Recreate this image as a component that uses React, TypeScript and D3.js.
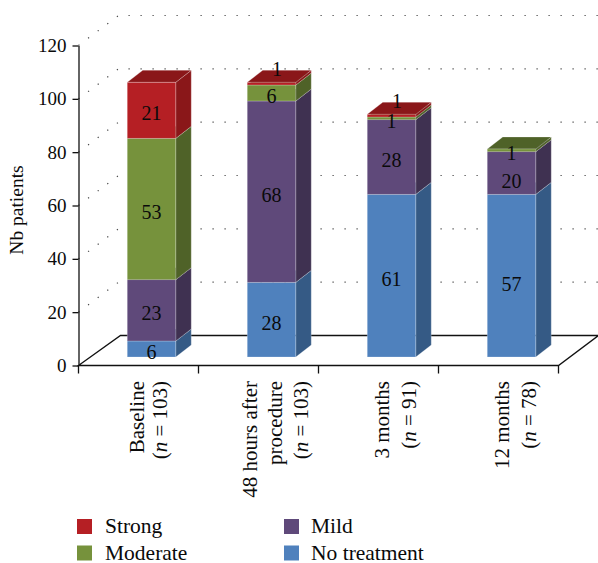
// @ts-nocheck
import { useEffect, useRef } from "react"
import * as d3 from "d3"

const categories = ["Baseline", "48 hours", "3 months", "12 months"]
const categoryLines = [["Baseline"], ["48 hours after", "procedure"], ["3 months"], ["12 months"]]
const patientCounts = [103, 103, 91, 78]

// heights of the bars as drawn
const noTreatment = [6, 28, 61, 61]
const mild = [23, 68, 28, 16]
const moderate = [53, 6, 1, 1]
const strong = [21, 1, 1, 0]

// the printed numbers: the last bar's labels don't agree with its drawn heights
const noTreatmentLabels = [6, 28, 61, 57]
const mildLabels = [23, 68, 28, 20]
const moderateLabels = [53, 6, 1, 1]
const strongLabels = [21, 1, 1, 0]

const seriesNames = ["No treatment", "Mild", "Moderate", "Strong"]
const seriesValues = [noTreatment, mild, moderate, strong]
const seriesLabels = [noTreatmentLabels, mildLabels, moderateLabels, strongLabels]
const legendOrder = [["Strong", "Moderate"], ["Mild", "No treatment"]]
const yTicks = [0, 20, 40, 60, 80, 100, 120]

const front = { "Strong": "#b51f24", "Moderate": "#76923c", "Mild": "#5f497a", "No treatment": "#4f81bd" }
const side = { "Strong": "#8a1719", "Moderate": "#4f6228", "Mild": "#3f3151", "No treatment": "#355a85" }

const width = 598
const height = 563
const font = "'Liberation Serif', serif"
const ink = "#0a0a0a"

export default function App() {
  const ref = useRef(null)

  useEffect(() => {
    const svg = d3.select(ref.current)
    svg.selectAll("*").remove()

    const x = d3.scaleBand().domain(categories).range([78.5, 558.5])
    const y = d3.scaleLinear().domain([0, 120]).range([365.5, 45.5])

    // floor + wall depth, and the smaller depth of a bar
    const depth = { x: 40, y: -30 }
    const barDepth = { x: 15.5, y: -12 }
    const barShift = { x: 13, y: -8.5 }
    const barWidth = 48.5
    const barLeft = cat => x(cat) + x.bandwidth() / 2 + barShift.x - barWidth / 2

    const grid = svg.append("g")
      .attr("fill", "none")
      .attr("stroke", "#444")
      .attr("stroke-width", 1.2)
      .attr("stroke-dasharray", "1.2 10.8")
    yTicks.filter(t => t > 0).forEach(t => {
      grid.append("path")
        .attr("d", `M${x.range()[0]},${y(t)}L${x.range()[0] + depth.x},${y(t) + depth.y}H${width}`)
    })

    // floor
    svg.append("path")
      .attr("d", `M78.5,${y(0)}L${78.5 + depth.x + 2},${y(0) + depth.y}H${558.5 + depth.x}L558.5,${y(0)}Z`)
      .attr("fill", "none")
      .attr("stroke", "#111")
      .attr("stroke-width", 1.3)

    const stackOf = rows => d3.stack().keys(seriesNames.map((_, i) => i))(
      categories.map((_, c) => rows.map(s => s[c]))
    )
    const stacked = stackOf(seriesValues)
    const labelStack = stackOf(seriesLabels)

    stacked.forEach((layer, s) => {
      const name = seriesNames[s]
      const g = svg.append("g")
        .attr("stroke", "#fff")
        .attr("stroke-opacity", 0.28)
        .attr("stroke-width", 0.8)
      layer.forEach((d, c) => {
        if (d[1] === d[0]) return
        const x0 = barLeft(categories[c])
        const x1 = x0 + barWidth
        const yTop = y(d[1]) + barShift.y
        const yBot = y(d[0]) + barShift.y
        g.append("path")
          .attr("d", `M${x1},${yTop}l${barDepth.x},${barDepth.y}V${yBot + barDepth.y}L${x1},${yBot}Z`)
          .attr("fill", side[name])
        g.append("path")
          .attr("d", `M${x0},${yTop}l${barDepth.x},${barDepth.y}H${x1 + barDepth.x}L${x1},${yTop}Z`)
          .attr("fill", side[name])
        g.append("rect")
          .attr("x", x0)
          .attr("y", yTop)
          .attr("width", barWidth)
          .attr("height", yBot - yTop)
          .attr("fill", front[name])
      })
    })

    // axes
    const yAxis = svg.append("g")
      .attr("transform", "translate(78.5,0)")
      .call(d3.axisLeft(y).tickValues(yTicks).tickSize(6).tickPadding(6).tickSizeOuter(0))
    yAxis.select(".domain").attr("stroke", "#111").attr("stroke-width", 1.3)
    yAxis.selectAll("line").attr("stroke", "#111").attr("stroke-width", 1.3)
    yAxis.selectAll("text")
      .attr("font-family", font)
      .attr("font-size", 19)
      .attr("fill", ink)

    const xTicks = d3.range(categories.length + 1).map(i => 78.5 + i * x.bandwidth())
    svg.append("g")
      .attr("stroke", "#111")
      .attr("stroke-width", 1.3)
      .selectAll("line")
      .data(xTicks)
      .join("line")
      .attr("x1", d => d)
      .attr("x2", d => d)
      .attr("y1", y(0))
      .attr("y2", y(0) + 8)

    svg.append("text")
      .attr("transform", "translate(23,210) rotate(-90)")
      .attr("text-anchor", "middle")
      .attr("font-family", font)
      .attr("font-size", 19.5)
      .attr("fill", ink)
      .text("Nb patients")

    // category labels, rotated, right aligned to the axis
    categories.forEach((cat, c) => {
      const lines = categoryLines[c]
      const mid = x(cat) + x.bandwidth() / 2 + (c === 0 ? 10.5 : 17)
      const lead = lines.length > 1 ? 25.5 : (c === 0 ? 23 : 26.5)
      const total = lines.length + 1
      const place = i => mid + (i - (total - 1) / 2) * lead
      lines.forEach((line, i) => {
        svg.append("text")
          .attr("transform", `translate(${place(i)},381) rotate(-90)`)
          .attr("text-anchor", "end")
          .attr("dy", "0.33em")
          .attr("font-family", font)
          .attr("font-size", 21)
          .attr("fill", ink)
          .text(line)
      })
      const count = svg.append("text")
        .attr("transform", `translate(${place(lines.length)},381) rotate(-90)`)
        .attr("text-anchor", "end")
        .attr("dy", "0.33em")
        .attr("font-family", font)
        .attr("font-size", 21)
        .attr("fill", ink)
      count.append("tspan").text("(")
      count.append("tspan").attr("font-style", "italic").text("n")
      count.append("tspan").text(` = ${patientCounts[c]})`)
    })

    // value labels
    labelStack.forEach((layer, s) => {
      layer.forEach((d, c) => {
        const value = d[1] - d[0]
        if (!value) return
        // thin top segments have their label pushed up over the top face
        const lifted = seriesNames[s] === "Strong" && value === 1
        svg.append("text")
          .attr("x", barLeft(categories[c]) + barWidth / 2 + (lifted ? 5.5 : 0))
          .attr("y", y((d[0] + d[1]) / 2) + barShift.y + (lifted ? -14 : 3.5))
          .attr("dy", "0.33em")
          .attr("text-anchor", "middle")
          .attr("font-family", font)
          .attr("font-size", 20)
          .attr("fill", ink)
          .text(value)
      })
    })

    // legend
    const legendX = [77, 284]
    const legendTextX = [105, 311]
    const legendY = [519, 545.5]
    legendOrder.forEach((col, i) => {
      col.forEach((name, j) => {
        svg.append("rect")
          .attr("x", legendX[i])
          .attr("y", legendY[j])
          .attr("width", 15)
          .attr("height", 15)
          .attr("fill", front[name])
        svg.append("text")
          .attr("x", legendTextX[i])
          .attr("y", legendY[j] + 14)
          .attr("font-family", font)
          .attr("font-size", 21.5)
          .attr("fill", ink)
          .text(name)
      })
    })
  }, [])

  return (
    <svg
      ref={ref}
      width={width}
      height={height}
      style={{ position: "absolute", left: 0, top: 0, display: "block", background: "#fff" }}
    />
  )
}
